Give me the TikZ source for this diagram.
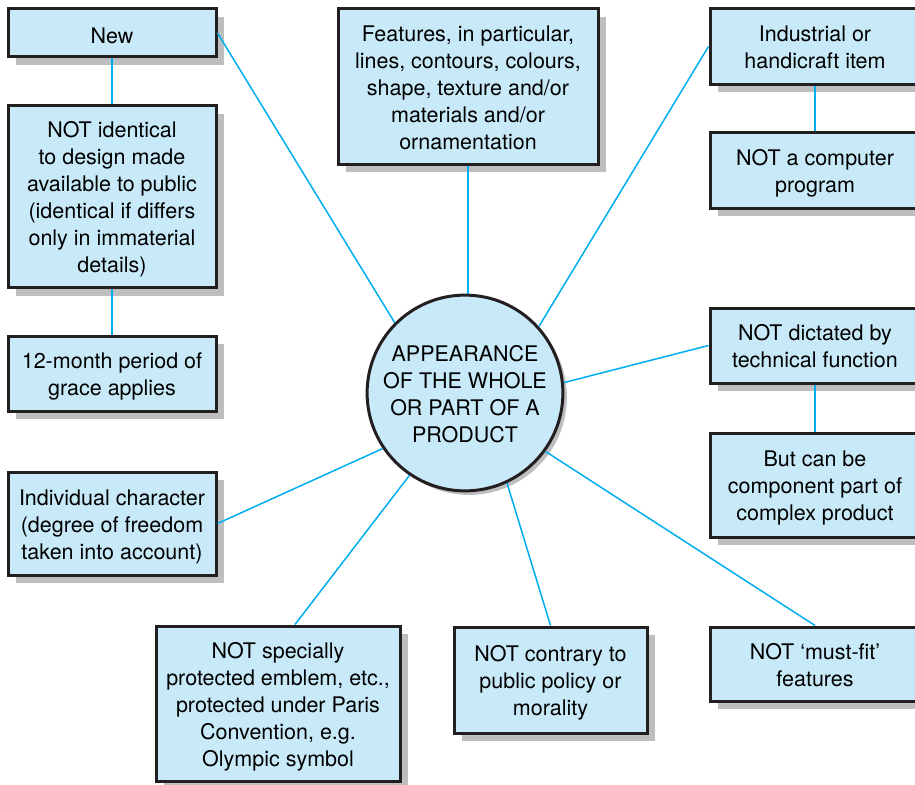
\documentclass[tikz,border=0pt]{standalone}
\usepackage{fontspec}
\setmainfont{TeX Gyre Heros}
\usetikzlibrary{shadows,calc}
\definecolor{boxfill}{RGB}{200,234,248}
\definecolor{boxline}{RGB}{35,31,32}
\definecolor{linkcol}{RGB}{0,174,239}
\definecolor{shadowcol}{RGB}{188,190,192}
\newcommand{\bt}[2][-3.5pt]{\raisebox{#1}[\height][\depth]{\begin{tabular}{@{}c@{}}#2\end{tabular}}}
\tikzset{
  box/.style={draw=boxline, line width=3pt, fill=boxfill, rectangle, inner sep=0pt,
    font=\fontsize{21.5}{27}\selectfont,
    general shadow={fill=shadowcol, shadow xshift=8pt, shadow yshift=-8pt}},
  hub/.style={draw=boxline, line width=3pt, fill=boxfill, circle, inner sep=0pt,
    minimum size=192pt, font=\fontsize{21.5}{27}\selectfont,
    general shadow={fill=shadowcol, shadow xshift=4pt, shadow yshift=-4pt}},
  link/.style={draw=linkcol, line width=1.5pt}
}
\begin{document}
\begin{tikzpicture}[x=1pt,y=-1pt]
\useasboundingbox (0,0) rectangle (915,784);
\clip (0,0) rectangle (915,784);
% left column
\node[box, minimum width=208pt, minimum height=48pt] (new) at (112,33) {\bt[-5pt]{New}};
\node[box, minimum width=208pt, minimum height=182pt] (ident) at (112,196.5) {\bt{NOT identical\\to design made\\available to public\\(identical if differs\\only in immaterial\\details)}};
\node[box, minimum width=208pt, minimum height=75pt] (grace) at (112,373.5) {\bt{12-month period of\\grace applies}};
\node[box, minimum width=208pt, minimum height=103pt] (indiv) at (112,523.5) {\bt{Individual character\\(degree of freedom\\taken into account)}};
% bottom row
\node[box, minimum width=244pt, minimum height=155pt] (emblem) at (278,703.5) {\bt{NOT specially\\protected emblem, etc.,\\protected under Paris\\Convention, e.g.\\Olympic symbol}};
\node[box, minimum width=193pt, minimum height=106pt] (policy) at (550.5,680) {\bt{NOT contrary to\\public policy or\\morality}};
\node[box, minimum width=210pt, minimum height=74pt] (mustfit) at (815,664) {\bt{NOT ‘must-fit’\\features}};
% top centre
\node[box, minimum width=260pt, minimum height=155pt] (feat) at (468,86.5) {\bt{Features, in particular,\\lines, contours, colours,\\shape, texture and/or\\materials and/or\\ornamentation}};
% right column
\node[box, minimum width=210pt, minimum height=75pt] (indus) at (815,46.5) {\bt{Industrial or\\handicraft item}};
\node[box, minimum width=210pt, minimum height=76pt] (comp) at (815,170) {\bt{NOT a computer\\program}};
\node[box, minimum width=210pt, minimum height=75pt] (techn) at (815,345.5) {\bt{NOT dictated by\\technical function}};
\node[box, minimum width=210pt, minimum height=104pt] (compl) at (815,485) {\bt{But can be\\component part of\\complex product}};
% hub
\node[hub] (c) at (465,393) {\bt{APPEARANCE\\OF THE WHOLE\\OR PART OF A\\PRODUCT}};
% connectors
\draw[link] (new) -- (ident);
\draw[link] (ident) -- (grace);
\draw[link] (indus) -- (comp);
\draw[link] (techn) -- (compl);
\draw[link] (new.east) -- (c.135);
\draw[link] (feat.south) -- (feat.south |- c.north);
\draw[link] (indus.west) -- (c.42);
\draw[link] (techn.west) -- (c.6);
\draw[link] (mustfit.north) -- (c.-36);
\draw[link] (policy.north) -- (c.-65);
\draw[link] ([xshift=17pt]emblem.north) -- (c.-124);
\draw[link] (indiv.east) -- (c.214);
\end{tikzpicture}
\end{document}
